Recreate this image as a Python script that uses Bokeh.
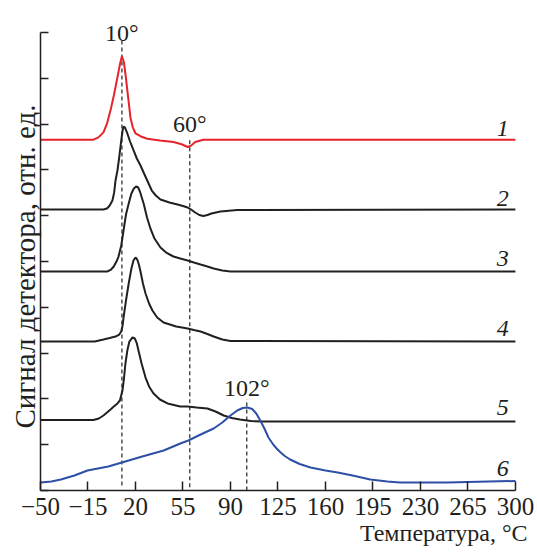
from bokeh.plotting import figure
from bokeh.models import Range1d, FixedTicker, Label, Title
from bokeh.embed import file_html
from bokeh.resources import INLINE

# ---- data -------------------------------------------------------------
x_ticks = [-50, -15, 20, 55, 90, 125, 160, 195, 230, 265, 300]
x_tick_labels = ["−50", "−15", "20", "55", "90", "125", "160", "195", "230", "265", "300"]
y_ticks = [0, 1, 2, 3, 4, 5, 6, 7, 8, 9, 10]

c1_x = [-50, -11, -7.3, -3.6, -1, 1.6, 4, 6.7, 8.5, 10, 11.5, 13, 14, 15.2, 16.3, 18, 20, 24, 28.7, 38, 48, 54, 58.5, 61, 64, 70, 300]
c1_y = [7.66, 7.66, 7.71, 7.82, 8.01, 8.30, 8.62, 9.02, 9.30, 9.48, 9.35, 9.00, 8.73, 8.43, 8.14, 7.93, 7.80, 7.73, 7.68, 7.64, 7.61, 7.56, 7.50, 7.53, 7.61, 7.66, 7.66]

c2_x = [-50, -3.6, -1, 1, 3, 4.3, 5.3, 6.7, 8, 9.5, 10.5, 11.2, 12.2, 14, 16, 18.6, 21, 23.7, 26, 28, 30, 32, 35, 38.4, 45, 51, 55, 58.4, 61, 64, 67, 70, 73, 76, 82.6, 95, 300]
c2_y = [6.135, 6.135, 6.157, 6.223, 6.332, 6.507, 6.769, 6.987, 7.271, 7.642, 7.860, 7.948, 7.926, 7.795, 7.620, 7.424, 7.249, 7.096, 6.943, 6.812, 6.681, 6.550, 6.441, 6.354, 6.288, 6.245, 6.212, 6.179, 6.135, 6.070, 6.015, 5.993, 6.015, 6.048, 6.092, 6.124, 6.135]

c3_x = [-50, -0.6, 2, 4, 6, 7.5, 9.5, 11.2, 13, 15, 17, 18.8, 20.5, 22, 23.5, 26, 28.5, 31, 34, 38.4, 43, 48, 53, 58.4, 63, 68, 73, 77.6, 84, 90, 300]
c3_y = [4.782, 4.782, 4.825, 4.891, 5.000, 5.109, 5.349, 5.677, 6.026, 6.266, 6.485, 6.594, 6.638, 6.616, 6.507, 6.266, 5.961, 5.721, 5.502, 5.306, 5.186, 5.109, 5.066, 5.022, 4.978, 4.934, 4.891, 4.847, 4.803, 4.782, 4.782]

c4_x = [-50, -10, -3.6, 1, 5.3, 8, 9.5, 10.5, 11.2, 13, 15, 17, 18.5, 20, 21.3, 22.5, 23.7, 25.5, 27.4, 30, 32.5, 36, 40.7, 50, 58.4, 63, 68, 73, 77.6, 84, 90, 300]
c4_y = [3.253, 3.253, 3.297, 3.330, 3.362, 3.406, 3.472, 3.603, 3.777, 4.148, 4.520, 4.847, 5.022, 5.087, 5.044, 4.934, 4.782, 4.520, 4.301, 4.083, 3.930, 3.777, 3.668, 3.581, 3.537, 3.504, 3.472, 3.417, 3.362, 3.297, 3.264, 3.253]

c5_x = [-50, -11, -7, -3.6, -1, 1.6, 4, 6.7, 8.5, 10.4, 11.5, 12.6, 14, 15.5, 17.8, 19.5, 21, 22.2, 24.5, 27.4, 30, 33.3, 38, 43.6, 53, 58.4, 65, 73, 79, 85, 91, 97, 105, 114, 300]
c5_y = [1.539, 1.539, 1.572, 1.638, 1.703, 1.769, 1.834, 1.900, 1.965, 2.183, 2.445, 2.773, 3.057, 3.253, 3.341, 3.319, 3.210, 3.057, 2.773, 2.467, 2.271, 2.118, 1.987, 1.900, 1.834, 1.834, 1.812, 1.790, 1.725, 1.638, 1.583, 1.550, 1.517, 1.507, 1.507]

c6_x = [-50, -42, -35, -25, -15.4, 0, 10, 25, 40.8, 53, 59, 68, 77.6, 84, 90, 95, 99, 102.5, 106, 109, 112, 115, 118, 121, 124, 127, 130, 134, 141, 149, 160, 169, 180, 193, 205.6, 215, 230, 250, 265, 280, 300]
c6_y = [0.175, 0.197, 0.240, 0.328, 0.437, 0.524, 0.611, 0.742, 0.873, 1.026, 1.092, 1.223, 1.354, 1.485, 1.638, 1.747, 1.801, 1.812, 1.779, 1.681, 1.528, 1.354, 1.157, 1.026, 0.917, 0.830, 0.753, 0.677, 0.579, 0.502, 0.437, 0.393, 0.328, 0.240, 0.197, 0.175, 0.175, 0.175, 0.186, 0.197, 0.207]

curve_colors = ["#e5232b", "#231f20", "#231f20", "#231f20", "#231f20", "#2d4fa5"]
curve_names = ["1", "2", "3", "4", "5", "6"]
curve_label_x = 295
curve_label_y = [7.90, 6.38, 5.07, 3.54, 1.81, 0.48]

peak_temps = [10, 60, 102]
peak_texts = ["10°", "60°", "102°"]
peak_line_top = [9.83, 7.71, 1.99]
peak_line_bottom = [0.11, 0.07, 0.0]
peak_label_y = [10.0, 8.01, 2.23]

x_title = "Температура, °C"
y_title = "Сигнал детектора, отн. ед."

FONT = "Liberation Serif"
INK = "#231f20"

# ---- figure -----------------------------------------------------------
p = figure(width=537, height=553,
           min_border_left=40, min_border_right=10, min_border_top=13, min_border_bottom=63,
           x_range=Range1d(-50, 308.9), y_range=Range1d(0, 10.415),
           output_backend="svg", toolbar_location=None, tools="")
p.outline_line_color = None
p.xgrid.visible = False
p.ygrid.visible = False
p.background_fill_color = "white"
p.border_fill_color = "white"

for ax in (p.xaxis, p.yaxis):
    ax.axis_line_color = INK
    ax.axis_line_width = 1.5
    ax.major_tick_line_color = INK
    ax.major_tick_line_width = 1.5
    ax.major_tick_in = 9
    ax.major_tick_out = 0
    ax.minor_tick_line_color = None

p.xaxis.bounds = (-50, 300)
p.xaxis.ticker = FixedTicker(ticks=x_ticks)
p.xaxis.major_label_overrides = {t: s for t, s in zip(x_ticks, x_tick_labels)}
p.xaxis.major_label_text_font = FONT
p.xaxis.major_label_text_font_size = "25px"
p.xaxis.major_label_text_color = INK
p.xaxis.major_label_standoff = 7

p.yaxis.bounds = (0, 10)
p.yaxis.ticker = FixedTicker(ticks=y_ticks)
p.yaxis.major_tick_in = 8
p.yaxis.major_label_overrides = {t: "" for t in y_ticks}
p.yaxis.major_label_standoff = 0

# axis titles
p.add_layout(Title(text=x_title, align="right", offset=0, standoff=0,
                   vertical_align="bottom", text_font=FONT, text_font_size="24px",
                   text_font_style="normal", text_color=INK), "below")
p.add_layout(Title(text=y_title, align="left", offset=62, standoff=0,
                   text_font=FONT, text_font_size="29px",
                   text_font_style="normal", text_color=INK), "left")

# dashed guide lines
p.segment(x0=peak_temps, y0=peak_line_bottom, x1=peak_temps, y1=peak_line_top,
          line_color="#333333", line_width=1.3, line_dash="4 3")

# curves
xs = [c1_x, c2_x, c3_x, c4_x, c5_x, c6_x]
ys = [c1_y, c2_y, c3_y, c4_y, c5_y, c6_y]
for cx, cy, col in zip(xs, ys, curve_colors):
    p.line(cx, cy, line_color=col, line_width=2)

# peak labels
for t, s, ly in zip(peak_temps, peak_texts, peak_label_y):
    p.add_layout(Label(x=t, y=ly, text=s, text_font=FONT, text_font_size="24px",
                       text_color=INK, text_align="center", text_baseline="alphabetic"))

# curve numbers
for n, ly in zip(curve_names, curve_label_y):
    p.add_layout(Label(x=curve_label_x, y=ly, text=n, text_font=FONT, text_font_size="24px",
                       text_font_style="italic", text_color=INK,
                       text_align="right", text_baseline="alphabetic"))

open("out.html", "w").write(file_html(p, INLINE))
